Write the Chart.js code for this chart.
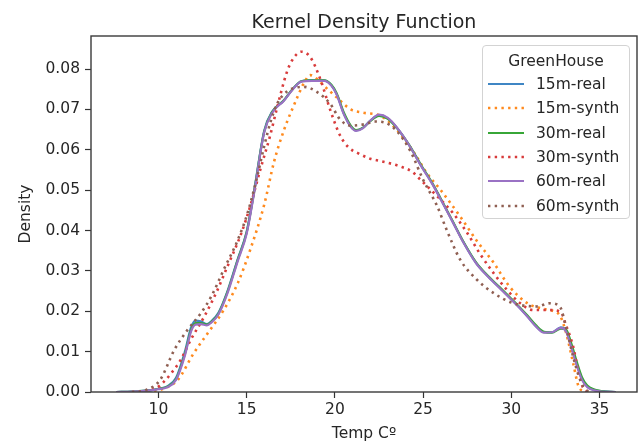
<!DOCTYPE html>
<html><head><meta charset="utf-8">
<script src="https://cdn.jsdelivr.net/npm/chart.js@4.4.1/dist/chart.umd.min.js"></script>
<style>
html,body{margin:0;padding:0;background:#fff;}
#wrap{position:relative;width:641px;height:444px;overflow:hidden;}
#title{position:absolute;left:91px;width:546px;top:9px;height:24px;line-height:24px;text-align:center;font-family:"DejaVu Sans",sans-serif;font-size:19px;color:#262626;white-space:nowrap;}
#legend{position:absolute;left:482px;top:45px;width:148px;height:174px;border:1px solid #d3d3d3;border-radius:4px;background:rgba(255,255,255,0.85);font-family:"DejaVu Sans",sans-serif;font-size:15.5px;color:#262626;box-sizing:border-box;}
#legend .ttl{position:absolute;left:0;width:100%;top:4px;height:22px;line-height:22px;text-align:center;}
#legend .row{position:absolute;left:0;height:22px;line-height:22px;white-space:nowrap;}
#legend .row svg{position:absolute;left:4px;top:6px;}
#legend .row span{position:absolute;left:53px;top:0;}
</style>
</head><body>
<div id="wrap"><canvas id="c" width="641" height="444"></canvas><div id="title">Kernel Density Function</div><div id="legend"></div></div>
<script>
// ---- data ----
const xTicks = [10, 15, 20, 25, 30, 35];
const yTicks = [0, 0.01, 0.02, 0.03, 0.04, 0.05, 0.06, 0.07, 0.08];
const seriesNames = ['15m-real', '15m-synth', '30m-real', '30m-synth', '60m-real', '60m-synth'];

const realX = [7.6, 8.5, 9.5, 10.0, 10.5, 11.0, 11.5, 11.85, 12.1, 12.4, 12.75, 13.0, 13.4, 13.9, 14.5, 15.0, 15.4, 16.0, 16.45, 17.1, 17.6, 18.1, 18.7, 19.4, 19.8, 20.1, 20.5, 20.9, 21.2, 21.6, 22.0, 22.5, 23.0, 23.5, 24.2, 24.9, 25.5, 26.0, 26.7, 27.3, 28.0, 28.6, 29.3, 29.9, 30.4, 30.9, 31.4, 31.85, 32.3, 32.8, 33.1, 33.4, 33.7, 34.0, 34.3, 34.7, 35.1, 35.9];
const real15Y = [0, 0.0001, 0.0004, 0.0008, 0.0014, 0.0035, 0.0100, 0.0160, 0.0177, 0.0175, 0.0168, 0.0175, 0.0196, 0.0248, 0.0330, 0.0397, 0.0492, 0.0648, 0.0695, 0.0722, 0.0750, 0.0770, 0.0773, 0.0772, 0.0760, 0.0738, 0.0690, 0.0658, 0.0648, 0.0655, 0.0672, 0.0686, 0.0678, 0.0655, 0.0612, 0.0560, 0.0518, 0.0478, 0.0420, 0.0370, 0.0320, 0.0290, 0.0260, 0.0234, 0.0212, 0.0188, 0.0163, 0.0148, 0.0148, 0.0160, 0.0153, 0.0115, 0.0070, 0.0033, 0.0014, 0.0005, 0.0002, 0];
const real30Y = [0, 0.0001, 0.0004, 0.0008, 0.0013, 0.0032, 0.0094, 0.0154, 0.0171, 0.0171, 0.0167, 0.0174, 0.0194, 0.0246, 0.0328, 0.0395, 0.0490, 0.0646, 0.0694, 0.0722, 0.0750, 0.0770, 0.0772, 0.0772, 0.0761, 0.0740, 0.0693, 0.0660, 0.0649, 0.0655, 0.0671, 0.0684, 0.0677, 0.0655, 0.0613, 0.0561, 0.0519, 0.0479, 0.0421, 0.0371, 0.0321, 0.0291, 0.0261, 0.0235, 0.0213, 0.0190, 0.0165, 0.0149, 0.0147, 0.0157, 0.0155, 0.0120, 0.0076, 0.0037, 0.0016, 0.0006, 0.0002, 0];
const real60Y = [0, 0.0001, 0.0004, 0.0007, 0.0012, 0.0030, 0.0090, 0.0150, 0.0167, 0.0168, 0.0165, 0.0172, 0.0192, 0.0243, 0.0325, 0.0392, 0.0487, 0.0644, 0.0692, 0.0721, 0.0749, 0.0769, 0.0771, 0.0771, 0.0759, 0.0737, 0.0689, 0.0657, 0.0647, 0.0654, 0.0672, 0.0687, 0.0679, 0.0656, 0.0612, 0.0559, 0.0517, 0.0477, 0.0419, 0.0369, 0.0319, 0.0289, 0.0259, 0.0233, 0.0211, 0.0187, 0.0162, 0.0147, 0.0148, 0.0159, 0.0150, 0.0110, 0.0066, 0.0030, 0.0012, 0.0004, 0.0001, 0];

const synth15X = [9.0, 9.8, 10.4, 11.1, 12.0, 12.8, 13.7, 14.5, 15.2, 16.0, 16.55, 17.1, 17.87, 18.3, 18.6, 19.0, 19.4, 20.1, 20.9, 21.6, 22.6, 23.5, 24.5, 25.2, 26.0, 27.1, 28.0, 29.0, 29.9, 30.9, 31.8, 32.4, 32.77, 33.1, 33.5, 33.8, 34.1, 34.4];
const synth15Y = [0, 0.0003, 0.0010, 0.0030, 0.0096, 0.0146, 0.0203, 0.0270, 0.0352, 0.0465, 0.0570, 0.0647, 0.0730, 0.0770, 0.0785, 0.0775, 0.0758, 0.0730, 0.0700, 0.0692, 0.0684, 0.0650, 0.0592, 0.0543, 0.0500, 0.0435, 0.0377, 0.0320, 0.0261, 0.0220, 0.0206, 0.0200, 0.0188, 0.0147, 0.0072, 0.0015, 0.0002, 0];

const synth30X = [8.5, 9.3, 9.9, 10.3, 10.7, 11.27, 11.84, 12.6, 13.35, 13.9, 14.67, 15.2, 15.8, 16.3, 16.7, 17.3, 17.7, 18.1, 18.6, 19.2, 19.75, 20.3, 20.8, 21.3, 22.0, 22.6, 23.7, 24.4, 24.85, 25.8, 26.7, 27.5, 28.2, 29.0, 29.75, 30.5, 31.25, 32.2, 32.8, 33.1, 33.5, 33.8, 34.1, 34.5];
const synth30Y = [0, 0.0003, 0.0010, 0.0025, 0.0045, 0.0080, 0.0130, 0.0187, 0.0253, 0.0310, 0.0390, 0.0460, 0.0555, 0.0630, 0.0700, 0.0795, 0.0830, 0.0843, 0.0830, 0.0772, 0.0697, 0.0635, 0.0605, 0.0592, 0.0578, 0.0572, 0.0559, 0.0545, 0.0526, 0.0485, 0.0443, 0.0394, 0.0344, 0.0294, 0.0253, 0.0220, 0.0203, 0.0203, 0.0198, 0.0165, 0.0113, 0.0050, 0.0008, 0];

const synth60X = [8.5, 9.3, 10.1, 10.9, 11.65, 12.4, 13.0, 13.7, 14.5, 15.05, 15.6, 16.0, 16.36, 16.74, 17.3, 17.9, 18.25, 19.0, 19.75, 20.3, 20.9, 21.64, 22.3, 22.8, 23.5, 24.3, 25.0, 25.8, 26.35, 27.1, 28.05, 29.0, 30.1, 31.45, 32.2, 32.77, 33.1, 33.5, 33.9, 34.3, 34.6];
const synth60Y = [0, 0.0005, 0.0030, 0.0104, 0.0154, 0.0195, 0.0237, 0.0303, 0.0377, 0.0443, 0.0534, 0.0610, 0.0670, 0.0715, 0.0745, 0.0755, 0.0756, 0.0743, 0.0713, 0.0675, 0.0660, 0.0663, 0.0670, 0.0668, 0.0647, 0.0595, 0.0526, 0.0460, 0.0400, 0.0328, 0.0278, 0.0245, 0.0220, 0.0212, 0.0220, 0.0210, 0.0160, 0.0088, 0.0030, 0.0003, 0];

// ---- styling ----
const colors = ['#3f86c4', '#ff8a1e', '#37a637', '#d83b3b', '#9a72c4', '#8f5f52'];
const dotted = [false, true, false, true, false, true];
const seriesX = [realX, synth15X, realX, synth30X, realX, synth60X];
const seriesY = [real15Y, synth15Y, real30Y, synth30Y, real60Y, synth60Y];

const FONT = '"DejaVu Sans", sans-serif';
const TXT = '#262626';

const datasets = seriesNames.map((name, i) => ({
  label: name,
  data: seriesX[i].map((x, k) => ({x: x, y: seriesY[i][k]})),
  borderColor: colors[i],
  backgroundColor: colors[i],
  borderWidth: dotted[i] ? 2.6 : 2.2,
  borderDash: dotted[i] ? [2.4, 4.3] : [],
  borderCapStyle: 'butt',
  pointRadius: 0,
  fill: false,
  cubicInterpolationMode: 'monotone',
  order: 10 - i
}));

const framePlugin = {
  id: 'frame',
  afterDraw(chart) {
    const a = chart.chartArea, ctx = chart.ctx;
    ctx.save();
    ctx.strokeStyle = '#3a3a3a';
    ctx.lineWidth = 1.4;
    ctx.strokeRect(a.left, a.top, a.right - a.left, a.bottom - a.top);
    ctx.restore();
  }
};

new Chart(document.getElementById('c'), {
  type: 'line',
  data: {datasets},
  plugins: [framePlugin],
  options: {
    responsive: false,
    animation: false,
    layout: {padding: {left: 0, right: 4, top: 36, bottom: 0}},
    plugins: {
      legend: {display: false},
      tooltip: {enabled: false},
      title: {display: false}
    },
    scales: {
      x: {
        type: 'linear', min: 6.18, max: 37.12,
        afterBuildTicks: s => { s.ticks = xTicks.map(v => ({value: v})); },
        afterFit: s => { s.height = 52; },
        ticks: {color: TXT, font: {family: FONT, size: 15.5}, padding: 3, maxRotation: 0, callback: v => String(v)},
        grid: {display: true, drawOnChartArea: false, tickLength: 6, color: '#333', tickWidth: 1.2},
        border: {display: false},
        title: {display: true, text: 'Temp Cº', color: TXT, font: {family: FONT, size: 15.5}, padding: {top: 0, bottom: 1}}
      },
      y: {
        type: 'linear', min: 0, max: 0.0882,
        afterBuildTicks: s => { s.ticks = yTicks.map(v => ({value: v})); },
        afterFit: s => { s.width = 91; },
        ticks: {color: TXT, font: {family: FONT, size: 15.5}, padding: 5, callback: v => v.toFixed(2)},
        grid: {display: true, drawOnChartArea: false, tickLength: 6, color: '#333', tickWidth: 1.2},
        border: {display: false},
        title: {display: true, text: 'Density', color: TXT, font: {family: FONT, size: 15.5}, padding: {top: 17, bottom: 0}}
      }
    }
  }
});

// ---- legend (HTML, real text) ----
const lg = document.getElementById('legend');
const t = document.createElement('div');
t.className = 'ttl'; t.textContent = 'GreenHouse';
lg.appendChild(t);
seriesNames.forEach((name, i) => {
  const r = document.createElement('div');
  r.className = 'row';
  r.style.top = (27 + i * 24.3) + 'px';
  const dash = dotted[i] ? ' stroke-dasharray="2.4 4.3"' : '';
  r.innerHTML = '<svg width="38" height="10"><line x1="1" y1="5" x2="37" y2="5" stroke="' + colors[i] +
    '" stroke-width="' + (dotted[i] ? 2.6 : 2.2) + '"' + dash + '/></svg><span></span>';
  r.querySelector('span').textContent = name;
  lg.appendChild(r);
});
</script>
</body></html>
